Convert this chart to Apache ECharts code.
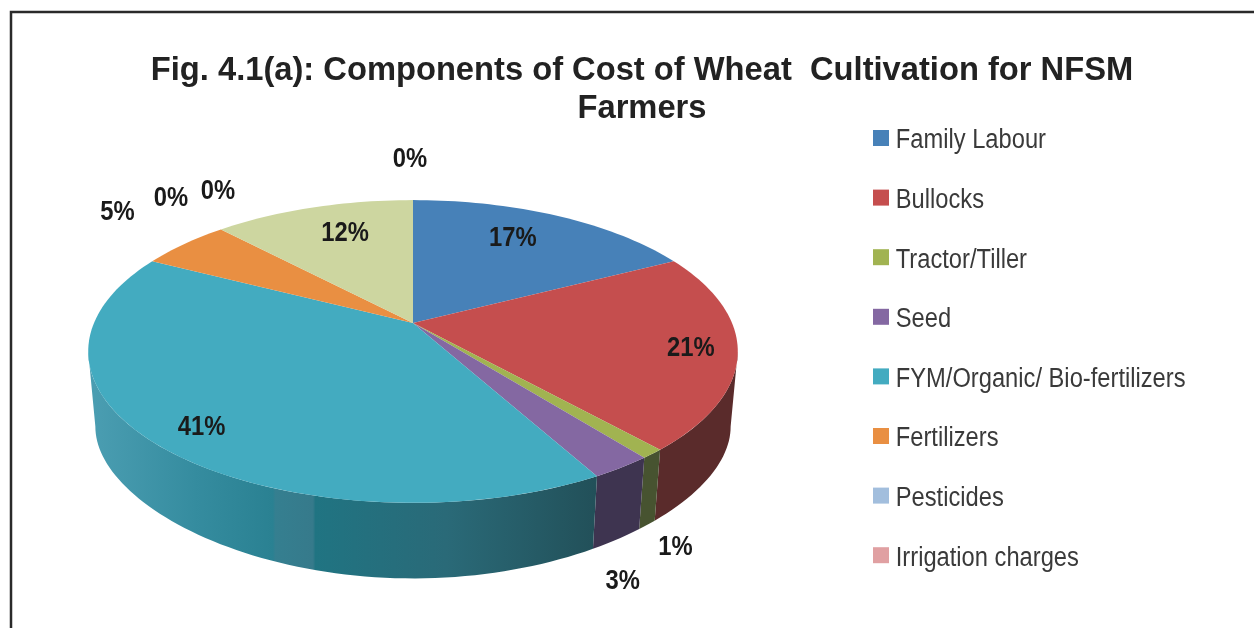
<!DOCTYPE html>
<html>
<head>
<meta charset="utf-8">
<style>html,body{margin:0;padding:0;background:#fff}#c{width:1254px;height:628px;filter:blur(0.5px)}</style>
<script src="https://cdn.jsdelivr.net/npm/echarts@6/dist/echarts.min.js"></script>
</head>
<body>
<div id="c"></div>
<script>
const categories = ['Family Labour','Bullocks','Tractor/Tiller','Seed','FYM/Organic/ Bio-fertilizers','Fertilizers','Pesticides','Irrigation charges','Other costs','Miscellaneous'];
const legendNames = categories.slice(0, 8);
const values = [17.4, 21, 1, 2.6, 40.6, 5.4, 0, 0, 12, 0];
const topColors = ['#4781b8','#c54e4e','#a1b351','#8468a2','#43abc0','#e98f42','#a2bedd','#e0a0a2','#cdd6a0','#9dc3e6'];
const wallColors = ['#2c5070','#5a2b2b','#475330','#3e3450',null,'#8f5526','#62748a','#886163','#7c8260','#5f768c'];
const labelOffsets = [[-43,23],[-47,-2],[23,94],[1,114],[46,-17],[-67,-32],[-50,-31],[-3,-38],[32,26],[-3,-41]];

// perspective disc: the near rim is larger than the far rim
const pie = {cx:413, apexY:323, a:319, b:146, q:0.188, lowScale:0.978, lowApexY:402, lowB:123.5, lowQ:0.3};
const total = values.reduce((s,v)=>s+v,0);
const startAngle = i => values.slice(0,i).reduce((s,v)=>s+v,0)/total*360;

function topRim(deg){
  const t = deg*Math.PI/180, u = Math.sin(t), v = -Math.cos(t), w = 1-pie.q*v;
  return [pie.cx+pie.a*u/w, pie.apexY+pie.b*v/w];
}
function lowRim(deg){
  const t = deg*Math.PI/180, u = Math.sin(t), v = -Math.cos(t);
  return [pie.cx+pie.lowScale*pie.a*u/(1-pie.q*v), pie.lowApexY+pie.lowB*v/(1-pie.lowQ*v)];
}
function arcAngles(a0,a1){
  const n = Math.max(2,Math.ceil((a1-a0)/1.5)), out=[];
  for(let i=0;i<=n;i++) out.push(a0+(a1-a0)*i/n);
  return out;
}
const tangent = Math.acos(-pie.q)*180/Math.PI;
const tealWall = new echarts.graphic.LinearGradient(95,0,596,0,[
  {offset:0,color:'#4a9db1'},{offset:0.2,color:'#358c9f'},{offset:0.355,color:'#2a8192'},
  {offset:0.36,color:'#357f90'},{offset:0.435,color:'#367a8b'},{offset:0.44,color:'#207482'},{offset:0.7,color:'#2a6a78'},{offset:1,color:'#225059'}
],true);

function renderSlice(params, api){
  const i = params.seriesIndex, val = api.value(0);
  const a0 = startAngle(i), a1 = a0+val/total*360, children=[];
  const mid = (a0+a1)/2, rim = topRim(mid), off = labelOffsets[i];
  if(val>0){
    const w0=Math.max(a0,tangent), w1=Math.min(a1,360-tangent);
    if(w1>w0){
      const angs=arcAngles(w0,w1);
      children.push({type:'polygon',z2:1,shape:{points:angs.map(topRim).concat(angs.slice().reverse().map(lowRim))},
        style:{fill:wallColors[i]||tealWall}});
    }
    children.push({type:'polygon',z2:2,shape:{points:[[pie.cx,pie.apexY]].concat(arcAngles(a0,a1).map(topRim))},
      style:{fill:topColors[i]}});
  }
  children.push({type:'text',z2:10,x:rim[0]+off[0],y:rim[1]+off[1],scaleX:0.85,
    style:{x:0,y:0,text:Math.round(val/total*100)+'%',fill:'#1a1a1a',font:'bold 28px "Liberation Sans"',align:'center',verticalAlign:'middle'}});
  return {type:'group',children};
}

const chart = echarts.init(document.getElementById('c'),null,{renderer:'canvas'});
chart.setOption({
  animation:false,
  backgroundColor:'#ffffff',
  title:{
    text:'Fig. 4.1(a): Components of Cost of Wheat  Cultivation for NFSM\nFarmers',
    left:637, top:47, textAlign:'center',
    textStyle:{fontFamily:'"Liberation Sans"',fontWeight:'bold',fontSize:32.7,lineHeight:38,color:'#222222'}
  },
  legend:{
    data:legendNames, orient:'vertical', left:868, top:118,
    icon:'rect', itemWidth:16, itemHeight:16, itemGap:29.6, selectedMode:false,
    textStyle:{fontFamily:'"Liberation Sans"',fontSize:27,lineHeight:30,color:'#3a3a3a',padding:[0,0,0,2]}
  },
  graphic:[{type:'polyline',shape:{points:[[11,628],[11,12],[1254,12]]},style:{fill:null,stroke:'#2a2a2a',lineWidth:2.5}}],
  series:categories.map((name,i)=>({
    type:'custom', name, coordinateSystem:'none', renderItem:renderSlice,
    itemStyle:{color:topColors[i]}, data:[[values[i]]]
  }))
});

// the reference legend is set in a condensed face: narrow the real legend text horizontally
const legendScaleX = 0.878, legendTextDrop = 3;
chart.getZr().storage.getRoots().forEach(root=>root.traverse(el=>{
  if(el.style && legendNames.includes(el.style.text) && el.type==='text'){
    el.originX = el.style.x; el.scaleX = legendScaleX; el.y = legendTextDrop; el.markRedraw();
  }
}));
chart.getZr().refresh();
</script>
</body>
</html>
